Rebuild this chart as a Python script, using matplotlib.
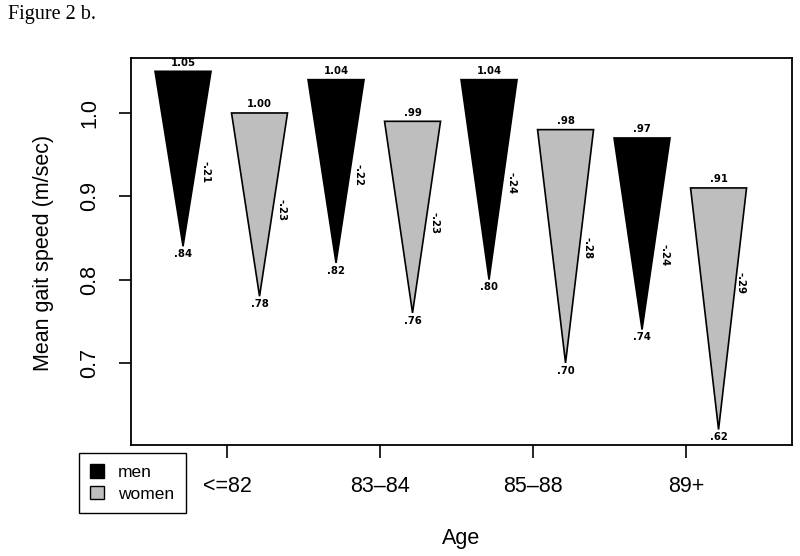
import matplotlib.pyplot as plt
from matplotlib.patches import Polygon, Patch

# Data
age_groups = ['<=82', '83–84', '85–88', '89+']
men_start = [1.05, 1.04, 1.04, 0.97]
men_end = [0.84, 0.82, 0.80, 0.74]
men_change = ['-.21', '-.22', '-.24', '-.24']
women_start = [1.00, 0.99, 0.98, 0.91]
women_end = [0.78, 0.76, 0.70, 0.62]
women_change = ['-.23', '-.23', '-.28', '-.29']
# height at which each change label sits
men_change_y = [0.929, 0.926, 0.916, 0.830]
women_change_y = [0.884, 0.868, 0.838, 0.796]

colors = {'men': 'black', 'women': '#bebebe'}


def fmt(v):
    s = f"{v:.2f}"
    return s[1:] if s.startswith('0') else s


fig = plt.figure(figsize=(8, 5.56), dpi=100)
ax = fig.add_axes([0.16375, 0.1996, 0.82625, 0.6961])

half_w = 0.366
for i in range(len(age_groups)):
    for j, (sex, start, end, change, cy) in enumerate([
            ('men', men_start, men_end, men_change, men_change_y),
            ('women', women_start, women_end, women_change, women_change_y)]):
        x = 2 * i + j
        tri = Polygon([(x - half_w, start[i]), (x + half_w, start[i]), (x, end[i])],
                      closed=True, facecolor=colors[sex], edgecolor='black', linewidth=1.2)
        ax.add_patch(tri)
        ax.annotate(fmt(start[i]), (x, start[i]), xytext=(0, 2.5), textcoords='offset points',
                    ha='center', va='bottom', fontsize=7.3, fontweight='bold')
        ax.annotate(fmt(end[i]), (x, end[i]), xytext=(0, -2), textcoords='offset points',
                    ha='center', va='top', fontsize=7.3, fontweight='bold')
        ax.text(x + 0.29, cy[i], change[i], rotation=-90, ha='center', va='center',
                fontsize=7.3, fontweight='bold')

ax.set_xlim(-0.68, 7.96)
ax.set_ylim(0.6014, 1.066)

ax.set_xticks([2 * i + 0.575 for i in range(len(age_groups))])
ax.set_xticklabels(age_groups)
ax.set_yticks([0.7, 0.8, 0.9, 1.0])
ax.set_yticklabels(['0.7', '0.8', '0.9', '1.0'], rotation=90, va='center')

ax.tick_params(axis='both', direction='out', length=9, width=1.2, labelsize=15.5)
ax.tick_params(axis='x', pad=13)
ax.tick_params(axis='y', pad=13)
for s in ax.spines.values():
    s.set_linewidth(1.3)

ax.set_xlabel('Age', fontsize=15.5)
ax.set_ylabel('Mean gait speed (m/sec)', fontsize=15.5)
ax.xaxis.set_label_coords(0.5, -0.215)
ax.yaxis.set_label_coords(-0.117, 0.496)

for lab in ax.get_xticklabels() + ax.get_yticklabels() + [ax.xaxis.label, ax.yaxis.label]:
    lab.set_family('Liberation Sans')

handles = [Patch(facecolor='black', edgecolor='black', label='men'),
           Patch(facecolor=colors['women'], edgecolor='black', label='women')]
leg = fig.legend(handles=handles, loc='upper left', bbox_to_anchor=(0.099, 0.185),
                 borderaxespad=0, fancybox=False, edgecolor='black', framealpha=1,
                 prop={'family': 'Liberation Sans', 'size': 12.5},
                 handlelength=0.8, handleheight=0.8, handletextpad=0.8,
                 borderpad=0.65, labelspacing=0.35)
leg.get_frame().set_linewidth(1.0)

fig.text(0.01, 1 - 19 / 556, 'Figure 2 b.', family='Liberation Serif', fontsize=14.5,
         va='baseline', ha='left')

fig.savefig('out.png', dpi=100)
